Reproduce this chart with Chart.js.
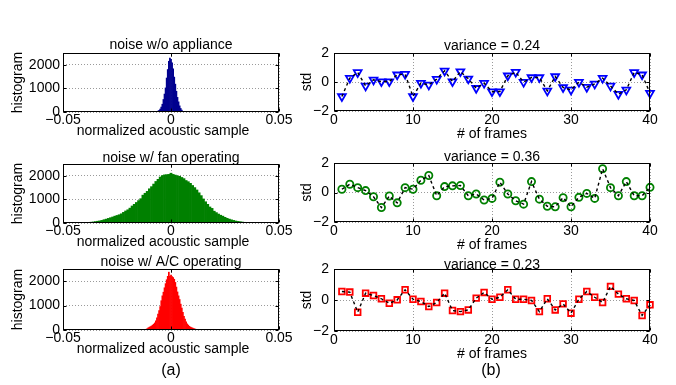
<!DOCTYPE html>
<html><head><meta charset="utf-8">
<script src="https://cdn.jsdelivr.net/npm/chart.js@4.4.1/dist/chart.umd.min.js"></script>
<style>
html,body{margin:0;padding:0;background:#fff;}
#wrap{position:relative;width:676px;height:385px;overflow:hidden;background:#fff;}
canvas{position:absolute;}
.cap{position:absolute;font-family:"Liberation Sans",Arial,sans-serif;font-size:16px;color:#000;transform:translate(-50%,-50%);white-space:nowrap;line-height:1;}
</style></head><body>
<div id="wrap">
<canvas id="h1" width="300" height="123" style="left:0px;top:23px"></canvas>
<canvas id="h2" width="300" height="123" style="left:0px;top:134px"></canvas>
<canvas id="h3" width="300" height="125" style="left:0px;top:239px"></canvas>
<canvas id="s1" width="382" height="122" style="left:294px;top:23px"></canvas>
<canvas id="s2" width="382" height="123" style="left:294px;top:133px"></canvas>
<canvas id="s3" width="382" height="126" style="left:294px;top:239px"></canvas>
<div class="cap" style="left:171px;top:370px">(a)</div>
<div class="cap" style="left:491px;top:370px">(b)</div>
</div>
<script>
// ---------- data ----------
const histTitles = ["noise w/o appliance", "noise w/ fan operating", "noise w/ A/C operating"];
const stdTitles = ["variance = 0.24", "variance = 0.36", "variance = 0.23"];
const histXTicks = [-0.05, 0, 0.05];
const histYTicks = [0, 1000, 2000];
const stdXTicks = [0, 10, 20, 30, 40];
const stdYTicks = [-2, 0, 2];

// bin centres (normalized acoustic sample)
const binsNone = [-0.0065,-0.006,-0.0055,-0.005,-0.0045,-0.004,-0.0035,-0.003,-0.0025,-0.002,-0.0015,-0.001,-0.0005,0,
  0.0005,0.001,0.0015,0.002,0.0025,0.003,0.0035,0.004,0.0045,0.005,0.0055,0.006,0.0065];
const countsNone = [10,35,70,125,210,330,530,760,1020,1440,1800,2150,2280,2230,
  2080,1830,1480,1180,880,620,430,260,150,80,30,12,5];

const binsFan = [-0.05,-0.049,-0.048,-0.047,-0.046,-0.045,-0.044,-0.043,-0.042,-0.041,
  -0.04,-0.039,-0.038,-0.037,-0.036,-0.035,-0.034,-0.033,-0.032,-0.031,
  -0.03,-0.029,-0.028,-0.027,-0.026,-0.025,-0.024,-0.023,-0.022,-0.021,
  -0.02,-0.019,-0.018,-0.017,-0.016,-0.015,-0.014,-0.013,-0.012,-0.011,
  -0.01,-0.009,-0.008,-0.007,-0.006,-0.005,-0.004,-0.003,-0.002,-0.001,0,
  0.001,0.002,0.003,0.004,0.005,0.006,0.007,0.008,0.009,0.01,
  0.011,0.012,0.013,0.014,0.015,0.016,0.017,0.018,0.019,0.02,
  0.021,0.022,0.023,0.024,0.025,0.026,0.027,0.028,0.029,0.03,
  0.031,0.032,0.033,0.034,0.035,0.036,0.037,0.038,0.039,0.04,
  0.041,0.042,0.043,0.044,0.045,0.046,0.047,0.048,0.049,0.05];
const countsFan = [0,2,3,4,5,6,8,10,12,15,
  18,22,28,35,45,60,75,90,110,140,
  165,195,225,255,290,320,350,390,450,510,
  560,630,720,790,870,950,1030,1180,1260,1340,
  1450,1540,1650,1760,1850,1950,2010,2040,2050,2060,2110,
  2060,2030,2000,1980,1930,1880,1800,1750,1680,1590,
  1500,1400,1280,1160,1020,900,790,680,620,500,
  440,380,330,290,240,200,165,135,110,85,
  68,55,42,30,24,18,14,10,8,6,
  5,4,3,2,2,1,1,1,0,0];

const binsAC = [-0.017,-0.0165,-0.016,-0.0155,-0.015,-0.0145,-0.014,-0.0135,-0.013,-0.0125,
  -0.012,-0.0115,-0.011,-0.0105,-0.01,-0.0095,-0.009,-0.0085,-0.008,-0.0075,
  -0.007,-0.0065,-0.006,-0.0055,-0.005,-0.0045,-0.004,-0.0035,-0.003,-0.0025,
  -0.002,-0.0015,-0.001,-0.0005,0,
  0.0005,0.001,0.0015,0.002,0.0025,0.003,0.0035,0.004,0.0045,0.005,
  0.0055,0.006,0.0065,0.007,0.0075,0.008,0.0085,0.009,0.0095,0.01,
  0.0105,0.011,0.0115,0.012,0.0125,0.013,0.0135,0.014,0.0145,0.015,
  0.0155,0.016,0.0165,0.017];
const countsAC = [3,4,5,5,6,7,8,9,11,14,
  20,30,55,90,115,140,165,200,240,290,
  380,500,650,800,960,1200,1400,1550,1730,1900,
  2060,2200,2370,2200,2250,
  2190,2150,2080,1950,1760,1560,1400,1250,1060,900,
  720,560,450,330,250,200,150,120,100,80,
  60,45,30,20,14,11,9,8,7,6,
  5,4,3,3];

// frame index and per-frame std
const frames = [1,2,3,4,5,6,7,8,9,10,11,12,13,14,15,16,17,18,19,20,
  21,22,23,24,25,26,27,28,29,30,31,32,33,34,35,36,37,38,39,40];
const stdNone = [-1.0,0.27,0.66,-0.27,0.15,0.03,0.03,0.5,0.54,-1.0,
  -0.08,-0.2,0.2,0.77,0.03,0.72,0.22,-0.43,-0.08,-0.66,
  -0.66,0.43,0.68,-0.01,0.31,0.31,-0.61,0.38,-0.38,-0.54,
  -0.01,-0.36,-0.13,0.27,-0.27,-0.84,-0.54,0.66,0.5,-0.77];
const stdFan = [0.22,0.56,0.33,0.13,-0.29,-1.02,-0.24,-0.7,0.33,0.22,
  0.83,1.15,-0.22,0.4,0.45,0.47,-0.22,-0.1,-0.51,-0.4,
  0.7,-0.1,-0.56,-0.79,0.74,-0.45,-0.93,-0.97,-0.35,-0.97,
  -0.33,-0.06,-0.4,1.61,0.33,-0.22,0.74,-0.22,-0.22,0.35];
const stdAC = [0.55,0.51,-0.79,0.44,0.29,0.08,-0.21,0.01,0.66,0.05,
  -0.1,-0.42,-0.16,0.44,-0.68,-0.75,-0.64,0.12,0.49,0.05,
  0.18,0.66,0.05,0.05,-0.03,-0.75,0.08,-0.64,-0.25,-0.85,
  0.05,0.55,0.18,-0.16,0.88,0.38,0.08,-0.03,-1.0,-0.31];

// ---------- drawing ----------
const FONT = '"Liberation Sans", Arial, Helvetica, sans-serif';
Chart.defaults.font.family = FONT;
Chart.defaults.font.size = 14;
Chart.defaults.color = '#000';

const minus = v => (v < 0 ? '\u2212' + Math.abs(v) : String(v));

const framePlugin = {
  id: 'frame',
  afterDraw(chart, args, o) {
    const ctx = chart.ctx, a = chart.chartArea;
    const xs = chart.scales.x, ys = chart.scales.y;
    const L = Math.round(a.left) + 0.5, R = Math.round(a.right) - 0.5;
    const T = Math.round(a.top) + 0.5, B = Math.round(a.bottom) - 0.5;
    ctx.save();
    ctx.strokeStyle = '#000';
    ctx.lineWidth = 1;
    ctx.beginPath();
    xs.ticks.forEach(t => {
      const p = Math.round(xs.getPixelForValue(t.value)) + 0.5;
      ctx.moveTo(p, B); ctx.lineTo(p, B - 3);
      ctx.moveTo(p, T); ctx.lineTo(p, T + 3);
    });
    ys.ticks.forEach(t => {
      const p = Math.round(ys.getPixelForValue(t.value)) + 0.5;
      ctx.moveTo(L, p); ctx.lineTo(L + 3, p);
      ctx.moveTo(R, p); ctx.lineTo(R - 3, p);
    });
    ctx.stroke();
    ctx.strokeRect(L, T, R - L, B - T);
    ctx.fillStyle = '#000';
    ctx.font = '14px ' + FONT;
    ctx.textAlign = 'center';
    ctx.textBaseline = 'alphabetic';
    const cx = (a.left + a.right) / 2;
    ctx.fillText(o.title, cx, a.top - o.titleGap);
    ctx.fillText(o.xlabel, cx + (o.xlabelDx || 0), a.bottom + o.xlabelGap);
    ctx.translate(o.ylabelX, (a.top + a.bottom) / 2);
    ctx.rotate(-Math.PI / 2);
    ctx.textBaseline = 'middle';
    ctx.fillText(o.ylabel, 0, 0);
    ctx.restore();
  }
};

const gridOpts = { color: '#9a9a9a', lineWidth: 1, drawTicks: false, offset: false };
const borderOpts = { display: false, dash: [1, 2] };

function makeHist(id, bins, counts, color, title, titleGap) {
  const data = bins.map((x, i) => ({ x: x, y: counts[i] }));
  new Chart(document.getElementById(id), {
    type: 'bar',
    data: { datasets: [{ data: data, backgroundColor: color, borderWidth: 0,
      barPercentage: 1, categoryPercentage: 1 }] },
    options: {
      responsive: false, animation: false, devicePixelRatio: 1, events: [],
      layout: { padding: { top: 30, right: 21, bottom: 0, left: 0 } },
      plugins: { legend: { display: false }, tooltip: { enabled: false },
        frame: { title: title, titleGap: titleGap, xlabel: 'normalized acoustic sample', xlabelDx: -8,
          xlabelGap: 23, ylabel: 'histogram', ylabelX: 18 } },
      scales: {
        x: { type: 'linear', min: -0.05, max: 0.05, offset: false,
          afterBuildTicks: s => { s.ticks = histXTicks.map(v => ({ value: v })); },
          ticks: { padding: 0, maxRotation: 0, autoSkip: false, callback: v => (v === 0 ? '0' : (v < 0 ? '\u2212' : '') + Math.abs(v).toFixed(2)) },
          grid: gridOpts, border: borderOpts,
          afterFit: s => { s.height = 34; } },
        y: { type: 'linear', min: 0, max: 2500,
          afterBuildTicks: s => { s.ticks = histYTicks.map(v => ({ value: v })); },
          ticks: { padding: 3, callback: v => String(v) },
          grid: gridOpts, border: borderOpts,
          afterFit: s => { s.width = 63; } }
      }
    },
    plugins: [framePlugin]
  });
}

function makeStd(id, vals, color, style, radius, rotation, title, titleGap) {
  const data = frames.map((f, i) => ({ x: f, y: vals[i] }));
  new Chart(document.getElementById(id), {
    type: 'line',
    data: { datasets: [
      { data: data, order: 0, borderColor: '#000', borderWidth: 1.4, borderDash: [3, 3],
        pointRadius: 0, fill: false, tension: 0, clip: false },
      { data: data, order: 1, showLine: false, pointStyle: style, pointRadius: radius,
        pointRotation: rotation, pointBorderColor: color, pointBackgroundColor: 'rgba(0,0,0,0)',
        pointBorderWidth: 1.8, clip: false }
    ] },
    options: {
      responsive: false, animation: false, devicePixelRatio: 1, events: [],
      layout: { padding: { top: 30, right: 26, bottom: 0, left: 0 } },
      plugins: { legend: { display: false }, tooltip: { enabled: false },
        frame: { title: title, titleGap: titleGap, xlabel: '# of frames', xlabelDx: 0,
          xlabelGap: 27, ylabel: 'std', ylabelX: 13 } },
      scales: {
        x: { type: 'linear', min: 0, max: 40,
          afterBuildTicks: s => { s.ticks = stdXTicks.map(v => ({ value: v })); },
          ticks: { padding: 1, maxRotation: 0, autoSkip: false, callback: v => String(v) },
          grid: gridOpts, border: borderOpts,
          afterFit: s => { s.height = 34; } },
        y: { type: 'linear', min: -2, max: 2,
          afterBuildTicks: s => { s.ticks = stdYTicks.map(v => ({ value: v })); },
          ticks: { padding: 5, callback: v => minus(v) },
          grid: gridOpts, border: borderOpts,
          afterFit: s => { s.width = 40; } }
      }
    },
    plugins: [framePlugin]
  });
}

makeHist('h1', binsNone, countsNone, '#00008f', histTitles[0], 4);
makeHist('h2', binsFan, countsFan, '#008000', histTitles[1], 2.5);
makeHist('h3', binsAC, countsAC, '#ff0000', histTitles[2], 3);
makeStd('s1', stdNone, '#0000ff', 'triangle', 4.5, 180, stdTitles[0], 3);
makeStd('s2', stdFan, '#008000', 'circle', 3.6, 0, stdTitles[1], 2);
makeStd('s3', stdAC, '#ff0000', 'rect', 4, 0, stdTitles[2], 0.5);
</script>
</body></html>
